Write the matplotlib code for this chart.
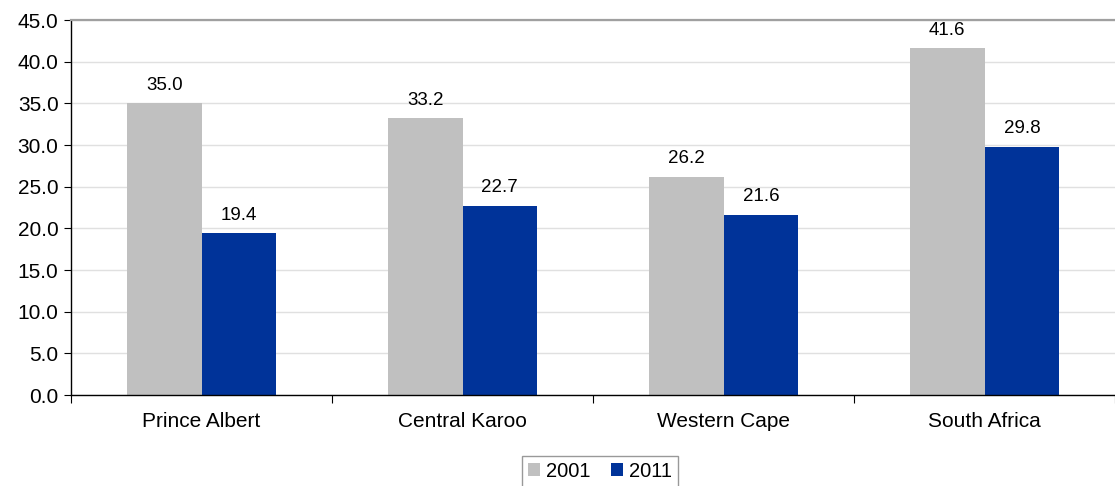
import matplotlib.pyplot as plt
import numpy as np

plt.rcParams['font.family'] = ['Liberation Sans', 'DejaVu Sans']

regions = ["Prince Albert", "Central Karoo", "Western Cape", "South Africa"]
years = ["2001", "2011"]
share_2001 = [35.0, 33.2, 26.2, 41.6]
share_2011 = [19.4, 22.7, 21.6, 29.8]

fig = plt.figure(figsize=(11.15, 4.86), dpi=100)
ax = fig.add_axes([0.0637, 0.1872, 0.9363, 0.7716])

x = np.arange(len(regions))
w = 0.286
b1 = ax.bar(x - w / 2, share_2001, w, color="#c0c0c0", label=years[0], zorder=2)
b2 = ax.bar(x + w / 2, share_2011, w, color="#003399", label=years[1], zorder=2)

ymax = 45
px_per_unit = 375 / ymax
for bars in (b1, b2):
    for r in bars:
        h = r.get_height()
        # keep labels inside the plot area near the top
        off = min(7, ((ymax - h) * px_per_unit - 17) * 0.72)
        ax.annotate(f"{h:.1f}", (r.get_x() + r.get_width() / 2, h),
                    xytext=(0, off), textcoords="offset points",
                    ha="center", va="bottom", fontsize=13.5)

ax.set_ylim(0, ymax)
ticks = np.arange(0, ymax + 0.1, 5)
ax.set_yticks(ticks)
ax.set_yticklabels([f"{v:.1f}" for v in ticks], fontsize=15)
ax.set_xlim(-0.5, 3.485)
ax.set_xticks(x)
ax.set_xticklabels(regions, fontsize=15)
ax.tick_params(axis="x", length=0, pad=12)
ax.tick_params(axis="y", length=5, width=0.8, pad=4)
# separators between categories
ax.set_xticks(np.arange(-0.5, 3.6, 1), minor=True)
ax.tick_params(axis="x", which="minor", length=6, width=0.8)

ax.grid(axis="y", color="#e0e0e0", linewidth=1, zorder=0)
ax.spines["right"].set_visible(False)
ax.spines["top"].set_color("#a0a0a0")
ax.spines["top"].set_linewidth(1.6)
ax.spines["left"].set_linewidth(1)
ax.spines["bottom"].set_linewidth(1)

leg = fig.legend(loc="upper center", bbox_to_anchor=(0.538, 0.083), ncol=2, fontsize=14.5,
                 frameon=True, fancybox=False, edgecolor="#808080",
                 handlelength=0.6, handleheight=0.6, handletextpad=0.3, columnspacing=1.0,
                 borderpad=0.3)
leg.get_frame().set_linewidth(1)

fig.savefig("out.png", dpi=100)
